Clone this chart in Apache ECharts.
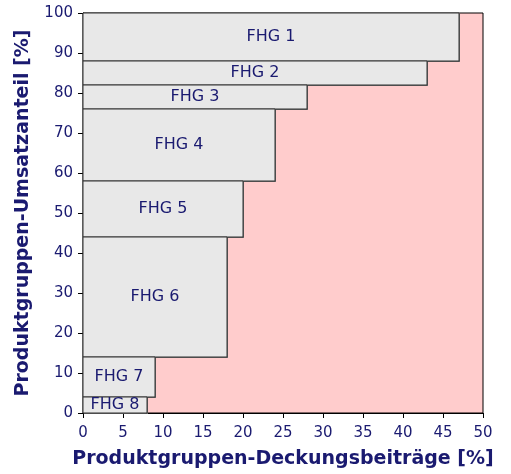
<!DOCTYPE html>
<html><head><meta charset="utf-8">
<script src="https://cdn.jsdelivr.net/npm/echarts@6/dist/echarts.min.js"></script>
<style>html,body{margin:0;padding:0;background:#fff}#c{width:511px;height:474px}</style>
</head><body><div id="c"></div>
<script>
var groups = ['FHG 1','FHG 2','FHG 3','FHG 4','FHG 5','FHG 6','FHG 7','FHG 8'];
var deckung = [47, 43, 28, 24, 20, 18, 9, 8];
var umsatzTop = [100, 88, 82, 76, 58, 44, 14, 4];
var umsatzBottom = [88, 82, 76, 58, 44, 14, 4, 0];
var xTicks = [0,5,10,15,20,25,30,35,40,45,50];
var yTicks = [0,10,20,30,40,50,60,70,80,90,100];

var navy = '#1a1a70';
var font = 'DejaVu Sans';
var data = groups.map(function(g,i){ return [deckung[i], umsatzBottom[i], umsatzTop[i], g]; });

var chart = echarts.init(document.getElementById('c'));
chart.setOption({
  animation:false,
  grid:{left:83, top:13, right:28, bottom:61, show:true, backgroundColor:'#ffcccc', borderColor:'#000', borderWidth:1, containLabel:false, outerBoundsMode:'none'},
  xAxis:{type:'value', min:xTicks[0], max:xTicks[xTicks.length-1], interval:5,
    name:'Produktgruppen-Deckungsbeiträge [%]', nameLocation:'middle', nameGap:37,
    nameTextStyle:{color:navy, fontFamily:font, fontWeight:'bold', fontSize:19},
    axisLine:{show:true, lineStyle:{color:'#000'}}, axisTick:{show:true, length:5, lineStyle:{color:'#000'}},
    axisLabel:{color:navy, fontFamily:font, fontSize:15, margin:13}, splitLine:{show:false}},
  yAxis:{type:'value', min:yTicks[0], max:yTicks[yTicks.length-1], interval:10,
    name:'Produktgruppen-Umsatzanteil [%]', nameLocation:'middle', nameGap:50,
    nameTextStyle:{color:navy, fontFamily:font, fontWeight:'bold', fontSize:19},
    axisLine:{show:true, lineStyle:{color:'#000'}}, axisTick:{show:true, length:5, lineStyle:{color:'#000'}},
    axisLabel:{color:navy, fontFamily:font, fontSize:15, margin:10}, splitLine:{show:false}},
  series:[{
    type:'custom', data:data,
    renderItem:function(params, api){
      var p0 = api.coord([0, api.value(2)]);
      var p1 = api.coord([api.value(0), api.value(1)]);
      var x = p0[0], y = p0[1], w = p1[0]-p0[0], h = p1[1]-p0[1];
      return {type:'group', children:[
        {type:'rect', shape:{x:x+1, y:y+1, width:w, height:h}, style:{fill:'#666'}},
        {type:'rect', shape:{x:x, y:y, width:w, height:h}, style:{fill:'#e8e8e8', stroke:'#333', lineWidth:1}},
        {type:'text', style:{x:x+w/2, y:y+h/2, text:groups[params.dataIndex], fill:navy, font:'16px "DejaVu Sans"', align:'center', verticalAlign:'middle'}}
      ]};
    }
  }]
});
</script></body></html>
